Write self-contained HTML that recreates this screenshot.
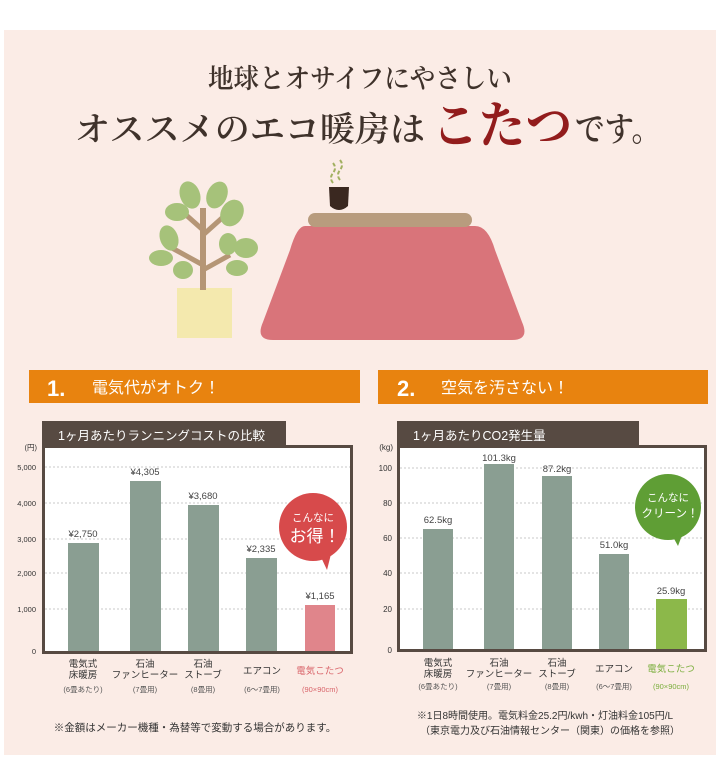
<!DOCTYPE html>
<html><head><meta charset="utf-8"><style>
html,body{margin:0;padding:0;background:#fff;}
svg{display:block;}
.s{font-family:"Liberation Sans","Noto Sans CJK JP",sans-serif;}
.m{font-family:"Liberation Serif","Noto Serif CJK SC",serif;}
</style></head><body>
<svg width="720" height="770" viewBox="0 0 720 770" xmlns="http://www.w3.org/2000/svg">
<rect x="4" y="30" width="712" height="725" fill="#fbece6"/>
<text class="m" x="208" y="88" textLength="304" lengthAdjust="spacingAndGlyphs" font-size="27" fill="#3f322b" font-weight="600">地球とオサイフにやさしい</text>
<text class="m" x="75" y="141" textLength="350" lengthAdjust="spacingAndGlyphs" font-size="34" fill="#3f322b" font-weight="600">オススメのエコ暖房は</text>
<text class="m" x="432" y="143" textLength="140" lengthAdjust="spacingAndGlyphs" font-size="50" fill="#921c1c" font-weight="bold">こたつ</text>
<text class="m" x="575" y="141" textLength="86" lengthAdjust="spacingAndGlyphs" font-size="34" fill="#3f322b" font-weight="600">です。</text>
<!-- plant -->
<rect x="177" y="288" width="55" height="50" fill="#f4e9ae"/>
<rect x="200" y="208" width="6" height="82" fill="#b59676"/>
<line x1="203" y1="265" x2="172" y2="248" stroke="#b59676" stroke-width="5"/>
<line x1="203" y1="270" x2="230" y2="255" stroke="#b59676" stroke-width="5"/>
<line x1="203" y1="230" x2="185" y2="214" stroke="#b59676" stroke-width="5"/>
<line x1="203" y1="235" x2="222" y2="218" stroke="#b59676" stroke-width="5"/>
<g fill="#a6c27a">
<ellipse cx="190" cy="195" rx="10" ry="14" transform="rotate(-20 190 195)"/>
<ellipse cx="217" cy="195" rx="10" ry="14" transform="rotate(25 217 195)"/>
<ellipse cx="177" cy="212" rx="12" ry="9"/>
<ellipse cx="232" cy="213" rx="11" ry="14" transform="rotate(30 232 213)"/>
<ellipse cx="169" cy="238" rx="9" ry="13" transform="rotate(-20 169 238)"/>
<ellipse cx="161" cy="258" rx="12" ry="8"/>
<ellipse cx="183" cy="270" rx="10" ry="9"/>
<ellipse cx="228" cy="244" rx="9" ry="11"/>
<ellipse cx="246" cy="248" rx="12" ry="10"/>
<ellipse cx="237" cy="268" rx="11" ry="8"/>
</g>
<!-- kotatsu -->
<path d="M305 226 L475 226 Q488 226 495 250 L522 322 Q530 340 512 340 L273 340 Q255 340 263 322 L290 250 Q297 226 305 226 Z" fill="#d9747a"/>
<rect x="308" y="213" width="164" height="14" rx="7" fill="#b89c7e"/>
<path d="M329 187 L349 187 L348 206 Q339 214 330 206 Z" fill="#3a2820"/>
<path d="M333 183 q-4 -5 0 -10 q4 -5 0 -10 M340 180 q-4 -5 0 -10 q4 -5 0 -10" stroke="#a1b060" stroke-width="2" fill="none" stroke-dasharray="4 2"/>
<!-- orange bars -->
<rect x="29" y="370" width="331" height="33" fill="#e8830f"/>
<text class="s" x="47" y="396" font-size="22" font-weight="bold" fill="#fff">1.</text>
<text class="s" x="92" y="393" font-size="16" fill="#fff">電気代がオトク！</text>
<rect x="378" y="370" width="330" height="34" fill="#e8830f"/>
<text class="s" x="397" y="396" font-size="22" font-weight="bold" fill="#fff">2.</text>
<text class="s" x="441" y="393" font-size="16" fill="#fff">空気を汚さない！</text>

<!-- chart 1 -->
<rect x="42" y="421" width="244" height="26" fill="#574a42"/>
<text class="s" x="58" y="440" font-size="12.5" fill="#fff">1ヶ月あたりランニングコストの比較</text>
<rect x="43.5" y="446.5" width="308" height="206" fill="#fff" stroke="#574a42" stroke-width="3"/>
<g stroke="#c8c8c8" stroke-dasharray="2 2" stroke-width="1">
<line x1="45" y1="467" x2="350" y2="467"/><line x1="45" y1="503" x2="350" y2="503"/>
<line x1="45" y1="539" x2="350" y2="539"/><line x1="45" y1="573" x2="350" y2="573"/>
<line x1="45" y1="609" x2="350" y2="609"/></g>
<g class="s" font-size="7.5" fill="#333" text-anchor="end">
<text x="37" y="450">(円)</text><text x="36" y="470">5,000</text><text x="36" y="506">4,000</text>
<text x="36" y="542">3,000</text><text x="36" y="576">2,000</text><text x="36" y="612">1,000</text><text x="36" y="654">0</text></g>
<g fill="#8a9e92">
<rect x="68" y="543" width="31" height="108"/><rect x="130" y="481" width="31" height="170"/>
<rect x="188" y="505" width="31" height="146"/><rect x="246" y="558" width="31" height="93"/></g>
<rect x="305" y="605" width="30" height="46" fill="#e0858b"/>
<g class="s" font-size="9.5" fill="#444" text-anchor="middle">
<text x="83" y="537">¥2,750</text><text x="145" y="475">¥4,305</text><text x="203" y="499">¥3,680</text>
<text x="261" y="552">¥2,335</text><text x="320" y="599">¥1,165</text></g>
<circle cx="313" cy="527" r="34" fill="#d74a4b"/>
<path d="M320 555 L327 570 L332 550 Z" fill="#d74a4b"/>
<text class="s" x="313" y="521" font-size="10.5" fill="#fff" text-anchor="middle">こんなに</text>
<text class="s" x="315" y="542" font-size="17" fill="#fff" text-anchor="middle">お得！</text>
<g class="s" text-anchor="middle" fill="#333" font-size="9.5">
<text x="83" y="667">電気式</text><text x="83" y="678">床暖房</text>
<text x="145" y="667">石油</text><text x="145" y="678">ファンヒーター</text>
<text x="203" y="667">石油</text><text x="203" y="678">ストーブ</text>
<text x="262" y="674">エアコン</text>
<text x="320" y="674" fill="#d9646a">電気こたつ</text></g>
<g class="s" text-anchor="middle" fill="#555" font-size="7.5">
<text x="83" y="692">(6畳あたり)</text><text x="145" y="692">(7畳用)</text><text x="203" y="692">(8畳用)</text>
<text x="262" y="692">(6〜7畳用)</text><text x="320" y="692" fill="#d9646a">(90×90cm)</text></g>
<text class="s" x="195" y="731" font-size="10.5" fill="#333" text-anchor="middle">※金額はメーカー機種・為替等で変動する場合があります。</text>

<!-- chart 2 -->
<rect x="397" y="421" width="242" height="26" fill="#574a42"/>
<text class="s" x="413" y="440" font-size="12.5" fill="#fff">1ヶ月あたりCO2発生量</text>
<rect x="398.5" y="446.5" width="307" height="204" fill="#fff" stroke="#574a42" stroke-width="3"/>
<g stroke="#c8c8c8" stroke-dasharray="2 2" stroke-width="1">
<line x1="400" y1="468" x2="704" y2="468"/><line x1="400" y1="503" x2="704" y2="503"/>
<line x1="400" y1="538" x2="704" y2="538"/><line x1="400" y1="573" x2="704" y2="573"/>
<line x1="400" y1="609" x2="704" y2="609"/></g>
<g class="s" font-size="8" fill="#333" text-anchor="end">
<text x="393" y="450">(kg)</text><text x="392" y="471">100</text><text x="392" y="506">80</text>
<text x="392" y="541">60</text><text x="392" y="576">40</text><text x="392" y="612">20</text><text x="392" y="653">0</text></g>
<g fill="#8a9e92">
<rect x="423" y="529" width="30" height="120"/><rect x="484" y="464" width="30" height="185"/>
<rect x="542" y="476" width="30" height="173"/><rect x="599" y="554" width="30" height="95"/></g>
<rect x="656" y="599" width="31" height="50" fill="#8cb84a"/>
<g class="s" font-size="9.5" fill="#444" text-anchor="middle">
<text x="438" y="523">62.5kg</text><text x="499" y="461">101.3kg</text><text x="557" y="472">87.2kg</text>
<text x="614" y="548">51.0kg</text><text x="671" y="594">25.9kg</text></g>
<circle cx="668" cy="507" r="33" fill="#5f9e35"/>
<path d="M672 535 L678 546 L684 530 Z" fill="#5f9e35"/>
<text class="s" x="668" y="501" font-size="10.5" fill="#fff" text-anchor="middle">こんなに</text>
<text class="s" x="670" y="517" font-size="11.5" fill="#fff" text-anchor="middle">クリーン！</text>
<g class="s" text-anchor="middle" fill="#333" font-size="9.5">
<text x="438" y="666">電気式</text><text x="438" y="677">床暖房</text>
<text x="499" y="666">石油</text><text x="499" y="677">ファンヒーター</text>
<text x="557" y="666">石油</text><text x="557" y="677">ストーブ</text>
<text x="614" y="672">エアコン</text>
<text x="671" y="672" fill="#7aae3c">電気こたつ</text></g>
<g class="s" text-anchor="middle" fill="#555" font-size="7.5">
<text x="438" y="689">(6畳あたり)</text><text x="499" y="689">(7畳用)</text><text x="557" y="689">(8畳用)</text>
<text x="614" y="689">(6〜7畳用)</text><text x="671" y="689" fill="#7aae3c">(90×90cm)</text></g>
<text class="s" x="545" y="719" font-size="10" fill="#333" text-anchor="middle">※1日8時間使用。電気料金25.2円/kwh・灯油料金105円/L</text>
<text class="s" x="550" y="734" font-size="10" fill="#333" text-anchor="middle">（東京電力及び石油情報センター（関東）の価格を参照）</text>
</svg>
</body></html>
